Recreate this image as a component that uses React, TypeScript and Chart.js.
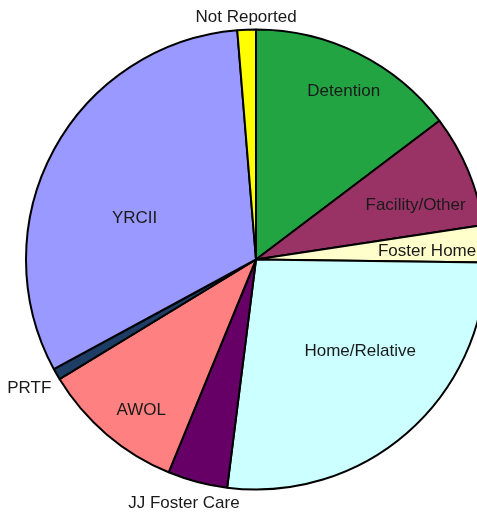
import React, { useEffect, useRef } from "react";
import { Chart, registerables } from "chart.js";

Chart.register(...registerables);

// Data (percent of total)
const categories = [
  "Detention",
  "Facility/Other",
  "Foster Home",
  "Home/Relative",
  "JJ Foster Care",
  "AWOL",
  "PRTF",
  "YRCII",
  "Not Reported",
];
const values = [14.7, 7.9, 2.6, 26.8, 4.2, 10.1, 0.8, 31.6, 1.3];

// Styles
const colors = [
  "#23A443",
  "#993366",
  "#FFFFCC",
  "#CCFFFF",
  "#660066",
  "#FF8080",
  "#1E3D64",
  "#9999FF",
  "#FFFF00",
];
// label placement: fraction of radius, and angular shift (degrees) from slice middle
const labelRadius = [0.83, 0.735, 0.745, 0.6, 1.1, 0.82, 1.13, 0.56, 1.06];
const labelShift = [0.9, 3.6, 0.7, -8, 1.8, -3, 0.6, -8.9, 0];

const labelPlugin = {
  id: "sliceLabels",
  afterDatasetsDraw(chart: any) {
    const ctx = chart.ctx;
    const meta = chart.getDatasetMeta(0);
    ctx.save();
    ctx.font = '17px "Liberation Sans", Arial, sans-serif';
    ctx.fillStyle = "#1a1a1a";
    ctx.textAlign = "center";
    ctx.textBaseline = "middle";
    meta.data.forEach((arc: any, i: number) => {
      const p = arc.getProps(["x", "y", "startAngle", "endAngle", "outerRadius"], true);
      const mid = (p.startAngle + p.endAngle) / 2 + (labelShift[i] * Math.PI) / 180;
      const r = p.outerRadius * labelRadius[i];
      const x = p.x + Math.cos(mid) * r;
      const y = p.y + Math.sin(mid) * r + 1.5;
      ctx.fillText(categories[i], x, y);
    });
    ctx.restore();
  },
};

export default function App() {
  const ref = useRef<HTMLCanvasElement | null>(null);
  useEffect(() => {
    if (!ref.current) return;
    const chart = new Chart(ref.current, {
      type: "pie",
      data: {
        labels: categories,
        datasets: [
          {
            data: values,
            backgroundColor: colors,
            borderColor: "#000000",
            borderWidth: 2,
          },
        ],
      },
      options: {
        responsive: false,
        animation: false,
        devicePixelRatio: 1,
        radius: 230,
        layout: { padding: { left: 0, right: 0, top: 6, bottom: 0 } },
        plugins: {
          legend: { display: false },
          tooltip: { enabled: false },
        },
      } as any,
      plugins: [labelPlugin],
    });
    return () => chart.destroy();
  }, []);
  return (
    <div
      style={{
        position: "fixed",
        left: 0,
        top: 0,
        width: 477,
        height: 513,
        overflow: "hidden",
        background: "#fff",
      }}
    >
      <canvas ref={ref} width={512} height={513} style={{ display: "block" }} />
    </div>
  );
}
